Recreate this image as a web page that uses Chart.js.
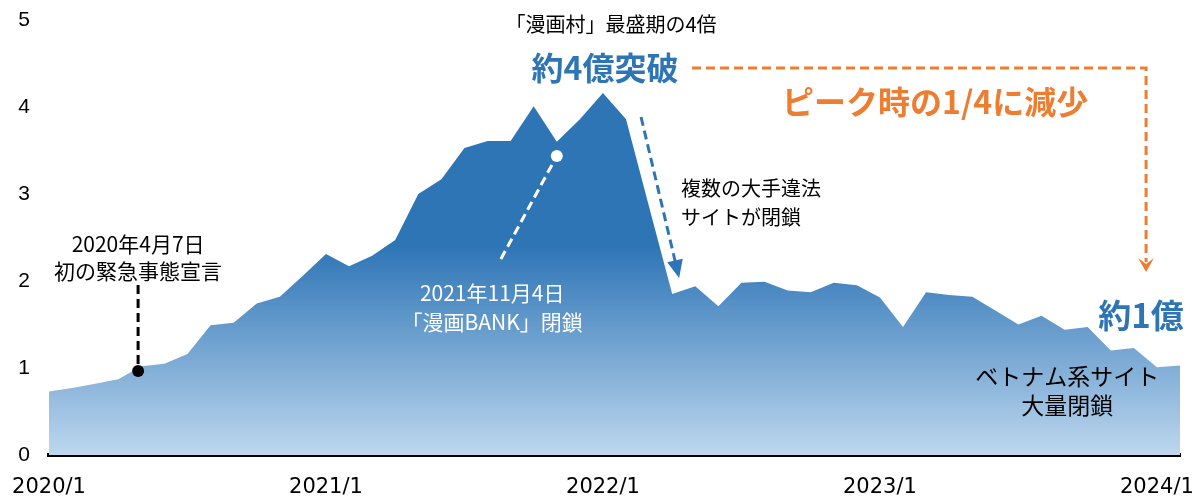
<!DOCTYPE html>
<html lang="ja">
<head>
<meta charset="utf-8">
<title>海賊版サイト アクセス数推移</title>
<script src="https://cdn.jsdelivr.net/npm/chart.js@4.4.1/dist/chart.umd.min.js"></script>
<style>
  html, body { margin: 0; padding: 0; background: #fff; }
  #wrap { position: relative; width: 1195px; height: 496px; }
</style>
</head>
<body>
<div id="wrap"><canvas id="chart"></canvas></div>
<script>
// 月次アクセス数（億）
const MONTHS = [
  "2020/1","2020/2","2020/3","2020/4","2020/5","2020/6","2020/7","2020/8","2020/9","2020/10","2020/11","2020/12",
  "2021/1","2021/2","2021/3","2021/4","2021/5","2021/6","2021/7","2021/8","2021/9","2021/10","2021/11","2021/12",
  "2022/1","2022/2","2022/3","2022/4","2022/5","2022/6","2022/7","2022/8","2022/9","2022/10","2022/11","2022/12",
  "2023/1","2023/2","2023/3","2023/4","2023/5","2023/6","2023/7","2023/8","2023/9","2023/10","2023/11","2023/12",
  "2024/1","2024/2"
];
const VISITS = [
  0.73, 0.77, 0.82, 0.87, 1.02, 1.05, 1.16, 1.49, 1.52, 1.74, 1.82, 2.06,
  2.31, 2.17, 2.29, 2.47, 3.00, 3.17, 3.53, 3.61, 3.61, 4.01, 3.60, 3.86,
  4.16, 3.86, 2.85, 1.85, 1.94, 1.71, 1.98, 1.99, 1.89, 1.87, 1.98, 1.95,
  1.81, 1.47, 1.87, 1.84, 1.82, 1.66, 1.50, 1.60, 1.44, 1.47, 1.20, 1.23,
  1.01, 1.03
];
const YEAR_TICKS = ["2020/1", "2021/1", "2022/1", "2023/1", "2024/1"];

const BLUE = "#2E75B6";
const ORANGE = "#ED7D31";
const JP = '"Noto Sans CJK JP", "Noto Sans", sans-serif';

// 注記（位置は x=月インデックス, y=億 の軸単位）
const notes = {
  emergency: { dot: [3.86, 0.966], lineTop: 1.954, lines: [["2020年4月7日", 2.425], ["初の緊急事態宣言", 2.115]] },
  bank: { dot: [22.0, 3.437], from: [19.58, 2.253], x: 19.2, lines: [["2021年11月4日", 1.862], ["「漫画BANK」閉鎖", 1.529]] },
  closures: { from: [25.65, 3.885], to: [27.3, 2.034], x: 27.38, lines: [["複数の大手違法", 3.07], ["サイトが閉鎖", 2.736]] },
  peak: { x: 24.09, y: 4.448, text: "約4億突破" },
  peakNote: { x: 24.35, y: 4.954, text: "「漫画村」最盛期の4倍" },
  drop: { start: [27.86, 4.448], corner: 47.53, tip: 2.103, x: 38.39, y: 4.057, text: "ピーク時の1/4に減少" },
  now: { x: 47.31, y: 1.609, text: "約1億" },
  vietnam: { x: 44.11, lines: [["ベトナム系サイト", 0.908], ["大量閉鎖", 0.575]] }
};

function dashed(ctx, pts, color) {
  ctx.save();
  ctx.strokeStyle = color;
  ctx.lineWidth = 3;
  ctx.setLineDash([9, 5]);
  ctx.beginPath();
  ctx.moveTo(pts[0][0], pts[0][1]);
  for (let i = 1; i < pts.length; i++) ctx.lineTo(pts[i][0], pts[i][1]);
  ctx.stroke();
  ctx.restore();
}

function dot(ctx, x, y, color) {
  ctx.save();
  ctx.fillStyle = color;
  ctx.beginPath();
  ctx.arc(x, y, 6, 0, Math.PI * 2);
  ctx.fill();
  ctx.restore();
}

function arrowHead(ctx, from, tip, color, len, half, notch) {
  const a = Math.atan2(tip[1] - from[1], tip[0] - from[0]);
  const c = Math.cos(a), s = Math.sin(a);
  const bx = tip[0] - c * len, by = tip[1] - s * len;
  ctx.save();
  ctx.fillStyle = color;
  ctx.beginPath();
  ctx.moveTo(tip[0], tip[1]);
  ctx.lineTo(bx - s * half, by + c * half);
  ctx.lineTo(tip[0] - c * (len - notch), tip[1] - s * (len - notch));
  ctx.lineTo(bx + s * half, by - c * half);
  ctx.closePath();
  ctx.fill();
  ctx.restore();
}

function text(ctx, str, x, y, font, color, align) {
  ctx.save();
  ctx.font = font;
  ctx.fillStyle = color;
  ctx.textAlign = align || "center";
  ctx.textBaseline = "middle";
  ctx.fillText(str, x, y);
  ctx.restore();
}

const notesPlugin = {
  id: "notes",
  afterDraw(chart) {
    const ctx = chart.ctx;
    const xs = chart.scales.x, ys = chart.scales.y;
    const P = (i, v) => [xs.getPixelForValue(i), ys.getPixelForValue(v)];
    const reg = "20px " + JP;

    // 緊急事態宣言
    let n = notes.emergency;
    let d = P(n.dot[0], n.dot[1]);
    dashed(ctx, [[d[0], ys.getPixelForValue(n.lineTop)], d], "#000");
    dot(ctx, d[0], d[1], "#000");
    n.lines.forEach(([t, v]) => text(ctx, t, d[0], ys.getPixelForValue(v), "21px " + JP, "#000"));

    // 漫画BANK 閉鎖
    n = notes.bank;
    d = P(n.dot[0], n.dot[1]);
    dashed(ctx, [P(n.from[0], n.from[1]), d], "#fff");
    dot(ctx, d[0], d[1], "#fff");
    n.lines.forEach(([t, v]) => text(ctx, t, xs.getPixelForValue(n.x), ys.getPixelForValue(v), "21px " + JP, "#fff"));

    // 大手違法サイト閉鎖
    n = notes.closures;
    const f = P(n.from[0], n.from[1]), t2 = P(n.to[0], n.to[1]);
    const a = Math.atan2(t2[1] - f[1], t2[0] - f[0]);
    dashed(ctx, [f, [t2[0] - Math.cos(a) * 12, t2[1] - Math.sin(a) * 12]], BLUE);
    arrowHead(ctx, f, t2, BLUE, 18, 8, 0);
    n.lines.forEach(([t, v]) => text(ctx, t, xs.getPixelForValue(n.x), ys.getPixelForValue(v), reg, "#000", "left"));

    // ピーク
    n = notes.peakNote;
    text(ctx, n.text, xs.getPixelForValue(n.x), ys.getPixelForValue(n.y), reg, "#000");
    n = notes.peak;
    text(ctx, n.text, xs.getPixelForValue(n.x), ys.getPixelForValue(n.y), "bold 32px " + JP, BLUE);

    // 1/4 に減少
    n = notes.drop;
    const s0 = P(n.start[0], n.start[1]);
    const cx = xs.getPixelForValue(n.corner);
    const tip = [cx, ys.getPixelForValue(n.tip)];
    dashed(ctx, [s0, [cx, s0[1]], [cx, tip[1] - 10]], ORANGE);
    arrowHead(ctx, [cx, s0[1]], tip, ORANGE, 14, 8, 6);
    text(ctx, n.text, xs.getPixelForValue(n.x), ys.getPixelForValue(n.y), "bold 32px " + JP, ORANGE);

    // 現在
    n = notes.now;
    text(ctx, n.text, xs.getPixelForValue(n.x), ys.getPixelForValue(n.y), "bold 33px " + JP, BLUE);
    n = notes.vietnam;
    n.lines.forEach(([t, v]) => text(ctx, t, xs.getPixelForValue(n.x), ys.getPixelForValue(v), "23px " + JP, "#000"));
  }
};

new Chart(document.getElementById("chart"), {
  type: "line",
  data: {
    labels: MONTHS,
    datasets: [{
      data: VISITS,
      fill: "origin",
      borderWidth: 0,
      pointRadius: 0,
      tension: 0,
      backgroundColor: function (c) {
        const chart = c.chart;
        const area = chart.chartArea;
        if (!area) return BLUE;
        const g = chart.ctx.createLinearGradient(0, chart.scales.y.getPixelForValue(2.4), 0, area.bottom);
        g.addColorStop(0, BLUE);
        g.addColorStop(1, "#BDD7EE");
        return g;
      }
    }]
  },
  options: {
    responsive: true,
    maintainAspectRatio: false,
    animation: false,
    layout: { padding: { top: 20, right: 15, left: 0, bottom: 0 } },
    plugins: { legend: { display: false }, tooltip: { enabled: false } },
    scales: {
      x: {
        z: 1,
        grid: { display: false, drawTicks: false },
        border: { display: true, color: "#000", width: 4 },
        ticks: {
          autoSkip: false,
          maxRotation: 0,
          padding: 20,
          color: "#000",
          font: { family: '"DejaVu Sans", Verdana, sans-serif', size: 21 },
          callback: function (v) {
            const l = this.getLabelForValue(v);
            return YEAR_TICKS.includes(l) ? l : "";
          }
        },
        // 軸の大きさは固定、端のラベル分の余白は取らない
        afterFit(s) { s.height = 41; s.paddingLeft = 0; s.paddingRight = 0; }
      },
      y: {
        min: 0,
        max: 5,
        grid: { display: false, drawTicks: false },
        border: { display: false },
        ticks: {
          stepSize: 1,
          padding: 19,
          color: "#000",
          font: { family: '"Liberation Sans", Arial, sans-serif', size: 21 }
        },
        afterFit(s) { s.width = 49; s.paddingTop = 0; s.paddingBottom = 0; }
      }
    }
  },
  plugins: [notesPlugin]
});
</script>
</body>
</html>
